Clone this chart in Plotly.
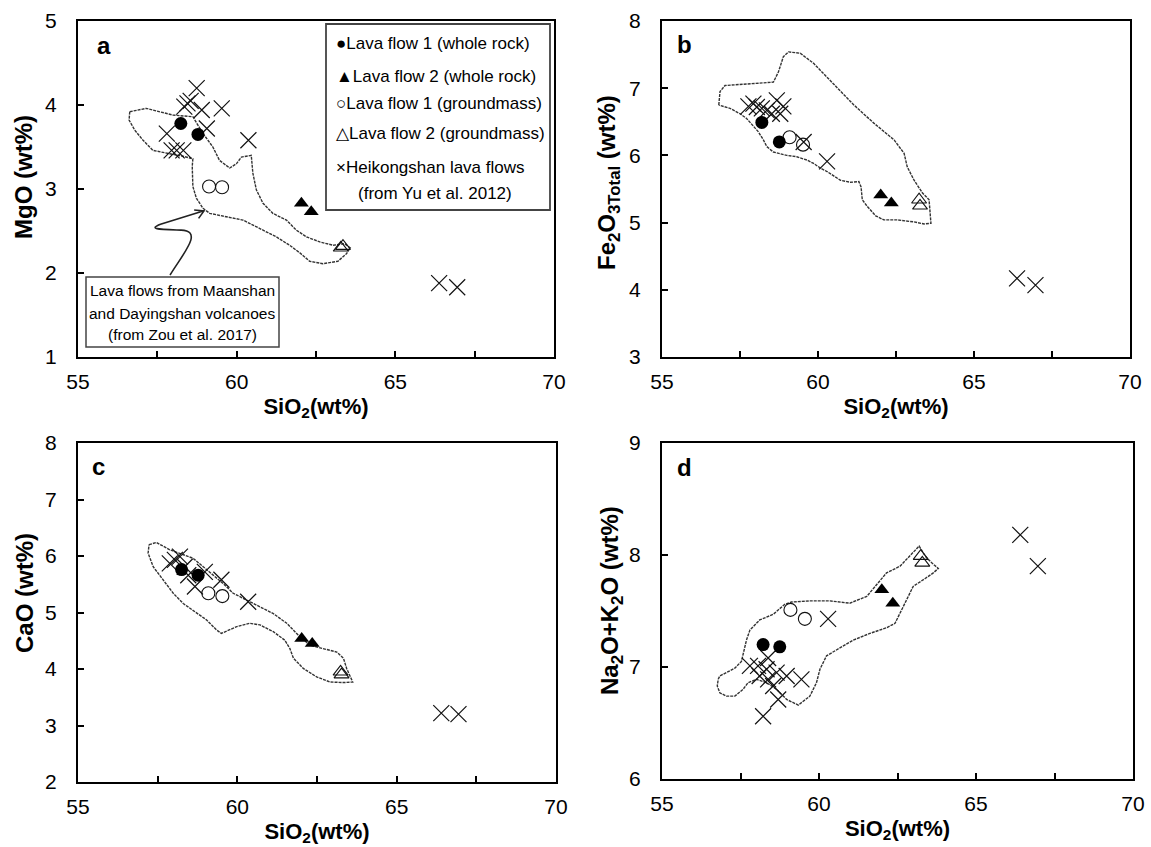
import plotly.graph_objects as go

W, H = 1151, 847
FONT = "Liberation Sans, Arial, sans-serif"

# ---------------- data ----------------
# panel a : MgO
a_wr1_x = [58.24, 58.78]; a_wr1_y = [3.78, 3.65]
a_wr2_x = [62.04, 62.35]; a_wr2_y = [2.83, 2.73]
a_gm1_x = [59.13, 59.54]; a_gm1_y = [3.03, 3.02]
a_gm2_x = [63.28, 63.35]; a_gm2_y = [2.30, 2.32]
a_hk_x = [58.74, 58.35, 58.45, 58.55, 58.90, 59.53, 59.06, 57.80, 60.37, 57.95, 58.11, 58.32, 66.38, 66.95]
a_hk_y = [4.20, 3.98, 4.02, 4.05, 3.94, 3.96, 3.72, 3.66, 3.58, 3.46, 3.46, 3.46, 1.88, 1.83]
a_field_x = [56.63, 57.15, 57.99, 58.62, 58.94, 59.25, 59.46, 59.78, 59.99, 60.15, 60.46, 60.51, 60.62,
             60.83, 61.14, 61.57, 61.88, 62.20, 62.62, 63.04, 63.40, 63.58, 63.46, 63.19, 62.72, 62.30,
             61.99, 61.67, 61.25, 60.72, 60.20, 59.67, 59.15, 58.94, 58.73, 58.62, 58.60, 58.62, 58.31,
             57.89, 57.36, 57.05, 56.79, 56.61, 56.63]
a_field_y = [3.92, 3.96, 3.88, 3.86, 3.66, 3.50, 3.34, 3.25, 3.30, 3.38, 3.40, 3.19, 2.99,
             2.83, 2.71, 2.63, 2.51, 2.43, 2.37, 2.33, 2.35, 2.30, 2.23, 2.14, 2.11, 2.14,
             2.24, 2.33, 2.43, 2.53, 2.63, 2.67, 2.71, 2.77, 2.89, 3.03, 3.27, 3.36, 3.39,
             3.42, 3.46, 3.58, 3.70, 3.82, 3.92]

# panel b : Fe2O3T
b_wr1_x = [58.20, 58.76]; b_wr1_y = [6.49, 6.20]
b_wr2_x = [62.01, 62.35]; b_wr2_y = [5.41, 5.29]
b_gm1_x = [59.09, 59.52]; b_gm1_y = [6.27, 6.16]
b_gm2_x = [63.24, 63.27]; b_gm2_y = [5.34, 5.25]
b_hk_x = [57.77, 57.93, 58.04, 58.20, 58.36, 58.52, 58.68, 58.89, 58.79, 59.54, 60.29, 66.38, 66.97]
b_hk_y = [6.73, 6.77, 6.72, 6.70, 6.67, 6.62, 6.82, 6.73, 6.62, 6.20, 5.91, 4.17, 4.07]
b_field_x = [56.82, 56.86, 57.02, 58.57, 58.73, 58.89, 59.06, 59.43, 59.86, 60.50, 61.15, 61.79, 62.44,
             62.76, 62.86, 63.08, 63.35, 63.56, 63.59, 63.62, 63.40, 63.08, 62.54, 62.11, 61.85, 61.58,
             61.42, 61.38, 61.31, 61.04, 60.72, 60.29, 60.08, 59.86, 59.65, 59.32, 59.00, 58.57, 58.36,
             58.25, 58.09, 57.93, 57.71, 57.50, 57.18, 56.82]
b_field_y = [6.75, 6.95, 7.04, 7.09, 7.24, 7.47, 7.54, 7.52, 7.37, 7.07, 6.75, 6.48, 6.23,
             6.03, 5.83, 5.63, 5.44, 5.34, 5.14, 4.99, 4.98, 5.01, 5.04, 5.04, 5.10, 5.24,
             5.34, 5.53, 5.61, 5.60, 5.63, 5.76, 5.81, 5.88, 5.93, 5.98, 6.00, 6.05, 6.13,
             6.23, 6.35, 6.43, 6.55, 6.62, 6.70, 6.75]

# panel c : CaO
c_wr1_x = [58.25, 58.77]; c_wr1_y = [5.76, 5.66]
c_wr2_x = [62.02, 62.35]; c_wr2_y = [4.54, 4.45]
c_gm1_x = [59.09, 59.53]; c_gm1_y = [5.34, 5.29]
c_gm2_x = [63.24, 63.27]; c_gm2_y = [3.95, 3.90]
c_hk_x = [57.88, 58.04, 58.20, 58.35, 58.46, 58.67, 58.98, 59.50, 60.34, 66.40, 66.94]
c_hk_y = [5.87, 5.93, 5.99, 5.81, 5.66, 5.46, 5.72, 5.58, 5.19, 3.22, 3.20]
c_field_x = [57.23, 57.46, 57.88, 58.30, 58.61, 58.93, 59.24, 59.56, 59.87, 60.29, 60.71, 61.13, 61.55,
             61.91, 62.28, 62.70, 63.12, 63.33, 63.43, 63.62, 63.33, 62.91, 62.49, 62.07, 61.76, 61.65,
             61.49, 61.13, 60.71, 60.39, 59.98, 59.50, 59.35, 59.03, 58.61, 58.30, 57.99, 57.67, 57.36,
             57.20, 57.23]
c_field_y = [6.20, 6.24, 6.11, 6.02, 5.96, 5.81, 5.66, 5.51, 5.34, 5.22, 5.10, 4.98, 4.81,
             4.60, 4.42, 4.36, 4.30, 4.19, 4.01, 3.77, 3.76, 3.77, 3.86, 4.01, 4.19, 4.36,
             4.51, 4.66, 4.78, 4.81, 4.75, 4.63, 4.69, 4.87, 5.04, 5.16, 5.34, 5.58, 5.81,
             6.05, 6.20]

# panel d : Na2O+K2O
d_wr1_x = [58.22, 58.75]; d_wr1_y = [7.20, 7.18]
d_wr2_x = [62.00, 62.35]; d_wr2_y = [7.69, 7.57]
d_gm1_x = [59.09, 59.55]; d_gm1_y = [7.51, 7.43]
d_gm2_x = [63.24, 63.29]; d_gm2_y = [7.99, 7.93]
d_hk_x = [66.41, 66.97, 60.29, 59.44, 58.97, 58.65, 58.33, 58.06, 57.80, 58.11, 58.38, 58.54, 58.70, 58.22, 58.38]
d_hk_y = [8.18, 7.90, 7.43, 6.89, 6.92, 6.95, 6.98, 7.01, 7.01, 6.92, 6.89, 6.83, 6.71, 6.56, 7.08]
d_field_x = [56.79, 56.84, 57.05, 57.32, 57.53, 57.69, 57.80, 58.11, 58.54, 58.91, 59.12, 59.71, 60.35,
             60.98, 61.52, 61.84, 62.15, 62.58, 62.90, 63.19, 63.38, 63.59, 63.80, 63.64, 63.38, 63.00,
             62.79, 62.58, 62.42, 62.15, 61.62, 61.09, 60.56, 60.24, 60.03, 59.92, 59.71, 59.34, 58.97,
             58.65, 58.33, 58.01, 57.74, 57.58, 57.32, 57.05, 56.84, 56.76, 56.79]
d_field_y = [6.89, 6.92, 6.95, 6.99, 7.05, 7.24, 7.33, 7.42, 7.47, 7.56, 7.58, 7.59, 7.59,
             7.57, 7.63, 7.74, 7.84, 7.90, 7.99, 8.08, 7.99, 7.93, 7.88, 7.84, 7.79, 7.72,
             7.60, 7.48, 7.39, 7.35, 7.30, 7.24, 7.15, 7.10, 6.98, 6.86, 6.74, 6.66, 6.71,
             6.80, 6.86, 6.89, 6.86, 6.80, 6.74, 6.74, 6.77, 6.83, 6.89]

x_ticks = [55, 60, 65, 70]
y_ranges = {"a": [1, 5], "b": [3, 8], "c": [2, 8], "d": [6, 9]}
series_names = ["Lava flow 1 (whole rock)", "Lava flow 2 (whole rock)",
                "Lava flow 1 (groundmass)", "Lava flow 2 (groundmass)",
                "Heikongshan lava flows (from Yu et al. 2012)"]

panels = {
    "a": dict(wr1=(a_wr1_x, a_wr1_y), wr2=(a_wr2_x, a_wr2_y), gm1=(a_gm1_x, a_gm1_y),
              gm2=(a_gm2_x, a_gm2_y), hk=(a_hk_x, a_hk_y), field=(a_field_x, a_field_y)),
    "b": dict(wr1=(b_wr1_x, b_wr1_y), wr2=(b_wr2_x, b_wr2_y), gm1=(b_gm1_x, b_gm1_y),
              gm2=(b_gm2_x, b_gm2_y), hk=(b_hk_x, b_hk_y), field=(b_field_x, b_field_y)),
    "c": dict(wr1=(c_wr1_x, c_wr1_y), wr2=(c_wr2_x, c_wr2_y), gm1=(c_gm1_x, c_gm1_y),
              gm2=(c_gm2_x, c_gm2_y), hk=(c_hk_x, c_hk_y), field=(c_field_x, c_field_y)),
    "d": dict(wr1=(d_wr1_x, d_wr1_y), wr2=(d_wr2_x, d_wr2_y), gm1=(d_gm1_x, d_gm1_y),
              gm2=(d_gm2_x, d_gm2_y), hk=(d_hk_x, d_hk_y), field=(d_field_x, d_field_y)),
}

# ---------------- layout geometry (pixels) ----------------
boxes = {  # left, right, top, bottom
    "a": (78, 554, 21, 357),
    "b": (662, 1130, 21, 357),
    "c": (78, 556, 443, 782),
    "d": (662, 1133, 443, 779),
}
axis_ids = {"a": ("x", "y"), "b": ("x2", "y2"), "c": ("x3", "y3"), "d": ("x4", "y4")}

def px(v): return v / W
def py(v): return 1 - v / H

fig = go.Figure()
INK = "#111111"

for key, d in panels.items():
    xa, ya = axis_ids[key]
    fx, fy = d["field"]
    fig.add_trace(go.Scatter(x=fx, y=fy, mode="lines", xaxis=xa, yaxis=ya, showlegend=False,
                             name="Maanshan and Dayingshan field",
                             line=dict(color="#333333", width=1.4, dash="3px,1px"), hoverinfo="skip"))
    hx, hy = d["hk"]
    fig.add_trace(go.Scatter(x=hx, y=hy, mode="markers", xaxis=xa, yaxis=ya, showlegend=False,
                             name=series_names[4],
                             marker=dict(symbol="x-thin", size=16, color=INK,
                                         line=dict(color=INK, width=1.2))))
    gx, gy = d["gm1"]
    fig.add_trace(go.Scatter(x=gx, y=gy, mode="markers", xaxis=xa, yaxis=ya, showlegend=False,
                             name=series_names[2],
                             marker=dict(symbol="circle-open", size=13, color=INK,
                                         line=dict(color=INK, width=1.1))))
    gx, gy = d["gm2"]
    fig.add_trace(go.Scatter(x=gx, y=gy, mode="markers", xaxis=xa, yaxis=ya, showlegend=False,
                             name=series_names[3],
                             marker=dict(symbol="triangle-up-open", size=13, color=INK,
                                         line=dict(color=INK, width=1.1))))
    wx, wy = d["wr1"]
    fig.add_trace(go.Scatter(x=wx, y=wy, mode="markers", xaxis=xa, yaxis=ya, showlegend=False,
                             name=series_names[0],
                             marker=dict(symbol="circle", size=13, color="black")))
    wx, wy = d["wr2"]
    fig.add_trace(go.Scatter(x=wx, y=wy, mode="markers", xaxis=xa, yaxis=ya, showlegend=False,
                             name=series_names[1],
                             marker=dict(symbol="triangle-up", size=13, color="black")))

layout = dict(width=W, height=H, margin=dict(l=0, r=0, t=0, b=0),
              plot_bgcolor="white", paper_bgcolor="white", template="none",
              font=dict(family=FONT, color="black", size=16), showlegend=False)

for key, (l, r, t, b) in boxes.items():
    xa, ya = axis_ids[key]
    xname = "xaxis" + xa[1:]
    yname = "yaxis" + ya[1:]
    layout[xname] = dict(domain=[px(l), px(r)], range=[55, 70], anchor=ya,
                         tickmode="array", tickvals=x_ticks, ticks="inside", ticklen=6,
                         tickwidth=1.5, tickcolor="black",
                         minor=dict(dtick=2.5, tick0=55, ticks="inside", ticklen=6,
                                    tickwidth=1.5, tickcolor="black"),
                         showline=True, linecolor="black", linewidth=2, mirror=True,
                         showgrid=False, zeroline=False,
                         tickfont=dict(size=21, family=FONT), ticklabelstandoff=5,
                         title=dict(text="<b>SiO<sub>2</sub>(wt%)</b>", font=dict(size=22, family=FONT),
                                    standoff=6))
    lo, hi = y_ranges[key]
    layout[yname] = dict(domain=[py(b), py(t)], range=[lo, hi], anchor=xa,
                         dtick=1, tick0=lo, ticks="inside", ticklen=6, tickwidth=1.5, tickcolor="black",
                         showline=True, linecolor="black", linewidth=2, mirror=True,
                         showgrid=False, zeroline=False,
                         tickfont=dict(size=21, family=FONT), ticklabelstandoff=15)

fig.update_layout(**layout)

# y-axis titles
ytitles = [
    ("<b>MgO (wt%)</b>", 24, 177),
    ("<b>Fe<sub>2</sub>O<sub>3Total</sub> (wt%)</b>", 608, 183),
    ("<b>CaO (wt%)</b>", 24, 593),
    ("<b>Na<sub>2</sub>O+K<sub>2</sub>O (wt%)</b>", 611, 601),
]
for txt, xx, yy in ytitles:
    fig.add_annotation(text=txt, x=px(xx), y=py(yy), xref="paper", yref="paper",
                       showarrow=False, textangle=-90, font=dict(size=24, family=FONT),
                       xanchor="center", yanchor="middle")

# panel letters
for txt, xx, yy in [("a", 95, 45), ("b", 675, 44), ("c", 90, 466), ("d", 675, 468)]:
    fig.add_annotation(text="<b>%s</b>" % txt, x=px(xx), y=py(yy), xref="paper", yref="paper",
                       showarrow=False, xanchor="left", yanchor="middle", font=dict(size=24, family=FONT))

# legend (drawn as text inside panel a)
fig.add_shape(type="rect", xref="paper", yref="paper", x0=px(326), x1=px(550), y0=py(210), y1=py(24),
              line=dict(color="#444444", width=1.8))
sym = ["●", "▲", "○", "△", "×"]
leg_y = [43, 76, 104, 133, 167]
for s, name, yy in zip(sym, series_names, leg_y):
    label = name.replace(" (from Yu et al. 2012)", "")
    fig.add_annotation(text=s + label,
                       x=px(334), y=py(yy), xref="paper", yref="paper", showarrow=False,
                       xanchor="left", yanchor="middle", font=dict(size=17, family=FONT))
fig.add_annotation(text="(from Yu et al. 2012)", x=px(356), y=py(193), xref="paper", yref="paper",
                   showarrow=False, xanchor="left", yanchor="middle", font=dict(size=17, family=FONT))

# field label box with curved arrow
fig.add_shape(type="rect", xref="paper", yref="paper", x0=px(86), x1=px(279), y0=py(347), y1=py(277),
              line=dict(color="#444444", width=1.5))
for line_txt, yy in [("Lava flows from Maanshan", 290), ("and Dayingshan volcanoes", 313),
                     ("(from Zou et al. 2017)", 334)]:
    fig.add_annotation(text=line_txt, x=px(182), y=py(yy), xref="paper", yref="paper", showarrow=False,
                       xanchor="center", yanchor="middle", font=dict(size=15.5, family=FONT))
fig.add_shape(type="path", xref="x", yref="y",
              path="M 57.90,1.976 C 58.35,2.25 58.95,2.5 58.25,2.51 C 57.55,2.52 57.2,2.52 57.6,2.58 "
                   "L 58.97,2.74 M 58.66,2.75 L 58.97,2.74 L 58.80,2.65",
              line=dict(color="#222222", width=1.6))

fig.write_html("out.html")
